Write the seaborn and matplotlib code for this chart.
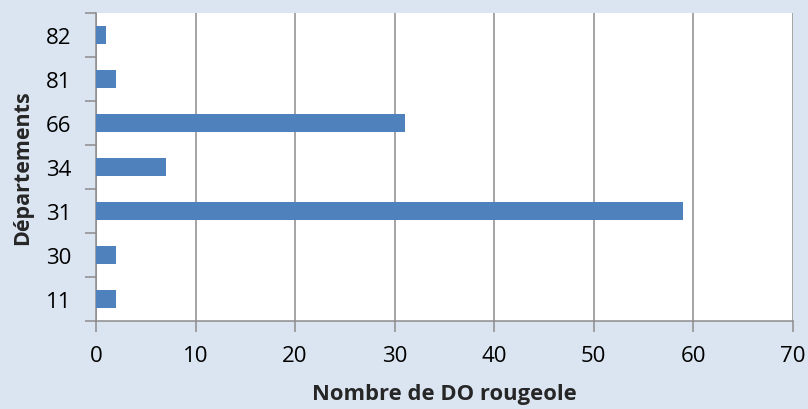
import matplotlib
matplotlib.use("Agg")
import matplotlib.pyplot as plt
import seaborn as sns
import pandas as pd
from matplotlib.ticker import FixedLocator

departements = ["82", "81", "66", "34", "31", "30", "11"]
cas = [1, 2, 31, 7, 59, 2, 2]
x_ticks = [0, 10, 20, 30, 40, 50, 60, 70]

df = pd.DataFrame({"dep": departements, "n": cas})

sns.set_theme(style="white")
plt.rcParams["font.family"] = ["Open Sans", "DejaVu Sans"]

bg = "#dbe5f1"
grid_c = "#8c8c8c"
fig = plt.figure(figsize=(8.08, 4.10), dpi=100, facecolor=bg)
ax = fig.add_axes([0.1188, 0.2146, 0.8622, 0.7514])
ax.set_facecolor("white")

sns.barplot(data=df, x="n", y="dep", order=departements, orient="h",
            color="#4f81bd", saturation=1, width=0.4, linewidth=0,
            ax=ax, zorder=3)

ax.set_xlim(0, 70)
ax.set_ylim(len(departements) - 0.5, -0.5)
ax.xaxis.set_major_locator(FixedLocator(x_ticks))
ax.set_xticklabels([str(v) for v in x_ticks])
ax.grid(axis="x", color=grid_c, linewidth=1.1, zorder=0)
ax.set_axisbelow(True)

for s in ["top", "right"]:
    ax.spines[s].set_visible(False)
for s in ["left", "bottom"]:
    ax.spines[s].set_color(grid_c)
    ax.spines[s].set_linewidth(1.1)

ax.tick_params(axis="y", which="major", length=0, labelsize=16, pad=18, colors="black")
ax.yaxis.set_minor_locator(FixedLocator([i - 0.5 for i in range(len(departements) + 1)]))
ax.tick_params(axis="y", which="minor", length=8, width=1.1, color=grid_c, left=True)
ax.tick_params(axis="x", which="major", length=8, width=1.1, color=grid_c, bottom=True,
               labelsize=16, pad=9.5, labelcolor="black")

ax.set_xlabel("Nombre de DO rougeole", fontsize=15.8, fontweight="bold", labelpad=12)
ax.set_ylabel("Départements", fontsize=15.5, fontweight="bold", labelpad=9)

fig.savefig("out.png", dpi=100, facecolor=bg)
